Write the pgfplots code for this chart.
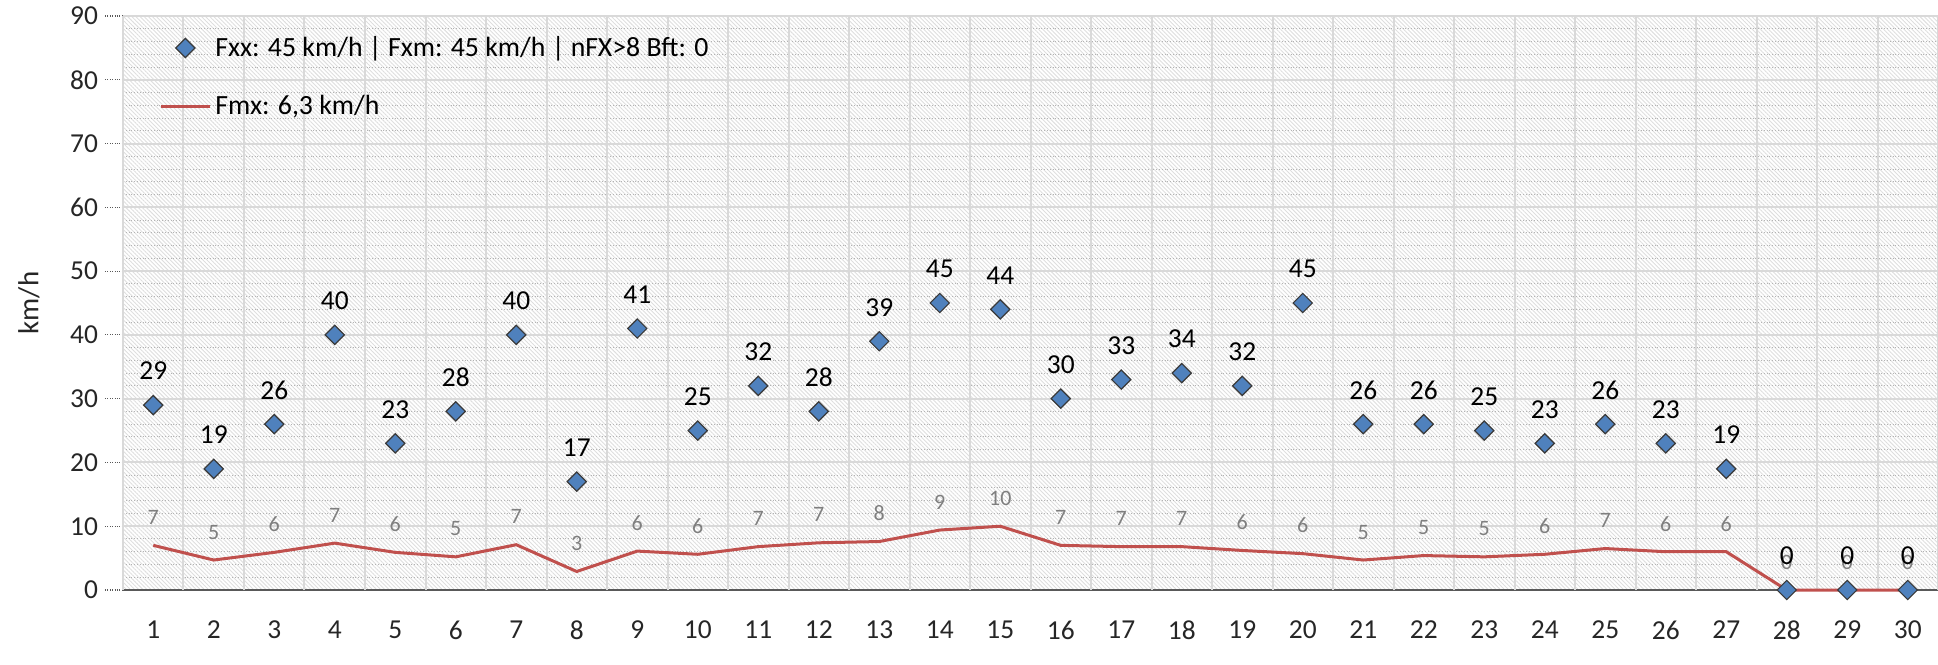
\documentclass[border=0pt]{standalone}
\usepackage{pgfplots}
\pgfplotsset{compat=1.18}
\usepackage{pgfplotstable}
\usepackage{fontspec}
\setmainfont{Carlito}
\usetikzlibrary{patterns.meta}
\definecolor{fxxblue}{HTML}{4F81BD}
\definecolor{fxxedge}{HTML}{3A3A3A}
\definecolor{fmxred}{HTML}{C0504D}
\definecolor{gridgray}{HTML}{D9D9D9}
\definecolor{hatchgray}{HTML}{DEDEDE}
\definecolor{axisgray}{HTML}{595959}
\definecolor{lblgray}{HTML}{7F7F7F}

\pgfplotsset{
  diamondlegend/.style={legend image code/.code={\draw[mark repeat=2,mark phase=2,##1] plot coordinates {(0cm,0cm) (0.43cm,0cm) (0.86cm,0cm)};}},
  linelegend/.style={legend image code/.code={\draw[##1] (0cm,0cm) -- (0.86cm,0cm);}},
}

\pgfplotstableread{
d fxx fmx lab
1 29 7.0 7
2 19 4.7 5
3 26 5.9 6
4 40 7.35 7
5 23 5.9 6
6 28 5.2 5
7 40 7.1 7
8 17 2.9 3
9 41 6.1 6
10 25 5.6 6
11 32 6.8 7
12 28 7.4 7
13 39 7.6 8
14 45 9.4 9
15 44 10.0 10
16 30 7.0 7
17 33 6.8 7
18 34 6.8 7
19 32 6.2 6
20 45 5.7 6
21 26 4.7 5
22 26 5.4 5
23 25 5.2 5
24 23 5.6 6
25 26 6.5 7
26 23 6.0 6
27 19 6.0 6
28 0 0 0
29 0 0 0
30 0 0 0
}\data

\begin{document}
\begin{tikzpicture}
\path[use as bounding box] (-61.5pt,-37pt) rectangle (907.5pt,295pt);
\begin{axis}[
  at={(0,0)}, anchor=south west,
  scale only axis, width=907.5pt, height=287pt,
  xmin=0.5, xmax=30.5, ymin=0, ymax=90,
  xtick={1,...,30},
  ytick={0,10,...,90},
  minor y tick num=4,
  font=\fontsize{13.7}{16}\selectfont,
  /pgf/number format/assume math mode=true,
  axis x line*=bottom, axis y line*=left,
  x axis line style={-, axisgray, line width=1.2pt},
  y axis line style={-, axisgray, densely dotted, line width=0.6pt},
  x tick style={draw=none},
  y tick style={axisgray, densely dotted, line width=0.6pt},
  major tick length=9pt,
  minor tick length=0pt,
  tick align=outside,
  ymajorgrids, yminorgrids,
  major grid style={solid, gridgray, line width=1pt},
  minor grid style={densely dotted, gray!60, line width=0.5pt},
  extra x ticks={0.5,1.5,...,30.5},
  extra x tick labels={},
  extra x tick style={grid=major, major grid style={solid, gridgray, line width=1pt}, tick style={draw=none}},
  xticklabel style={yshift=-3pt, text=black!85},
  yticklabel style={text=black!85},
  ylabel={km/h},
  every axis y label/.style={at={(rel axis cs:0,0.5)}, rotate=90, anchor=center, yshift=47pt, font=\fontsize{14.5}{16}\selectfont, text=black!85},
  axis background/.style={pattern={Lines[angle=-45,distance=1.45pt,line width=0.45pt]}, pattern color=hatchgray},
  clip=false,
  legend style={at={(rel axis cs:0,1)}, anchor=north west, xshift=15pt, yshift=-6pt, draw=none, fill=none, row sep=14pt, font=\fontsize{13.9}{16}\selectfont, cells={anchor=west}},
]
\addlegendimage{only marks, mark=square*, mark size=3.4pt, mark options={rotate=45, fill=fxxblue, draw=fxxedge, line width=0.6pt}, diamondlegend}
\addlegendentry{Fxx: 45 km/h | Fxm: 45 km/h | nFX>8 Bft: 0}
\addlegendimage{color=fmxred, line width=1.5pt, linelegend}
\addlegendentry{Fmx: 6,3 km/h}

\addplot[forget plot, color=fmxred, line width=1.5pt, no marks,
  nodes near coords, point meta=explicit symbolic,
  every node near coord/.append style={anchor=center, yshift=14pt, text=lblgray, font=\fontsize{11}{13}\selectfont}]
  table[x=d, y=fmx, meta=lab]{\data};
\addplot[forget plot, only marks, mark=square*, mark size=3.4pt,
  mark options={rotate=45, fill=fxxblue, draw=fxxedge, line width=0.6pt},
  nodes near coords, point meta=explicit symbolic,
  every node near coord/.append style={anchor=center, yshift=17pt, text=black, font=\fontsize{13.7}{16}\selectfont}]
  table[x=d, y=fxx, meta=fxx]{\data};
\end{axis}
\end{tikzpicture}
\end{document}
